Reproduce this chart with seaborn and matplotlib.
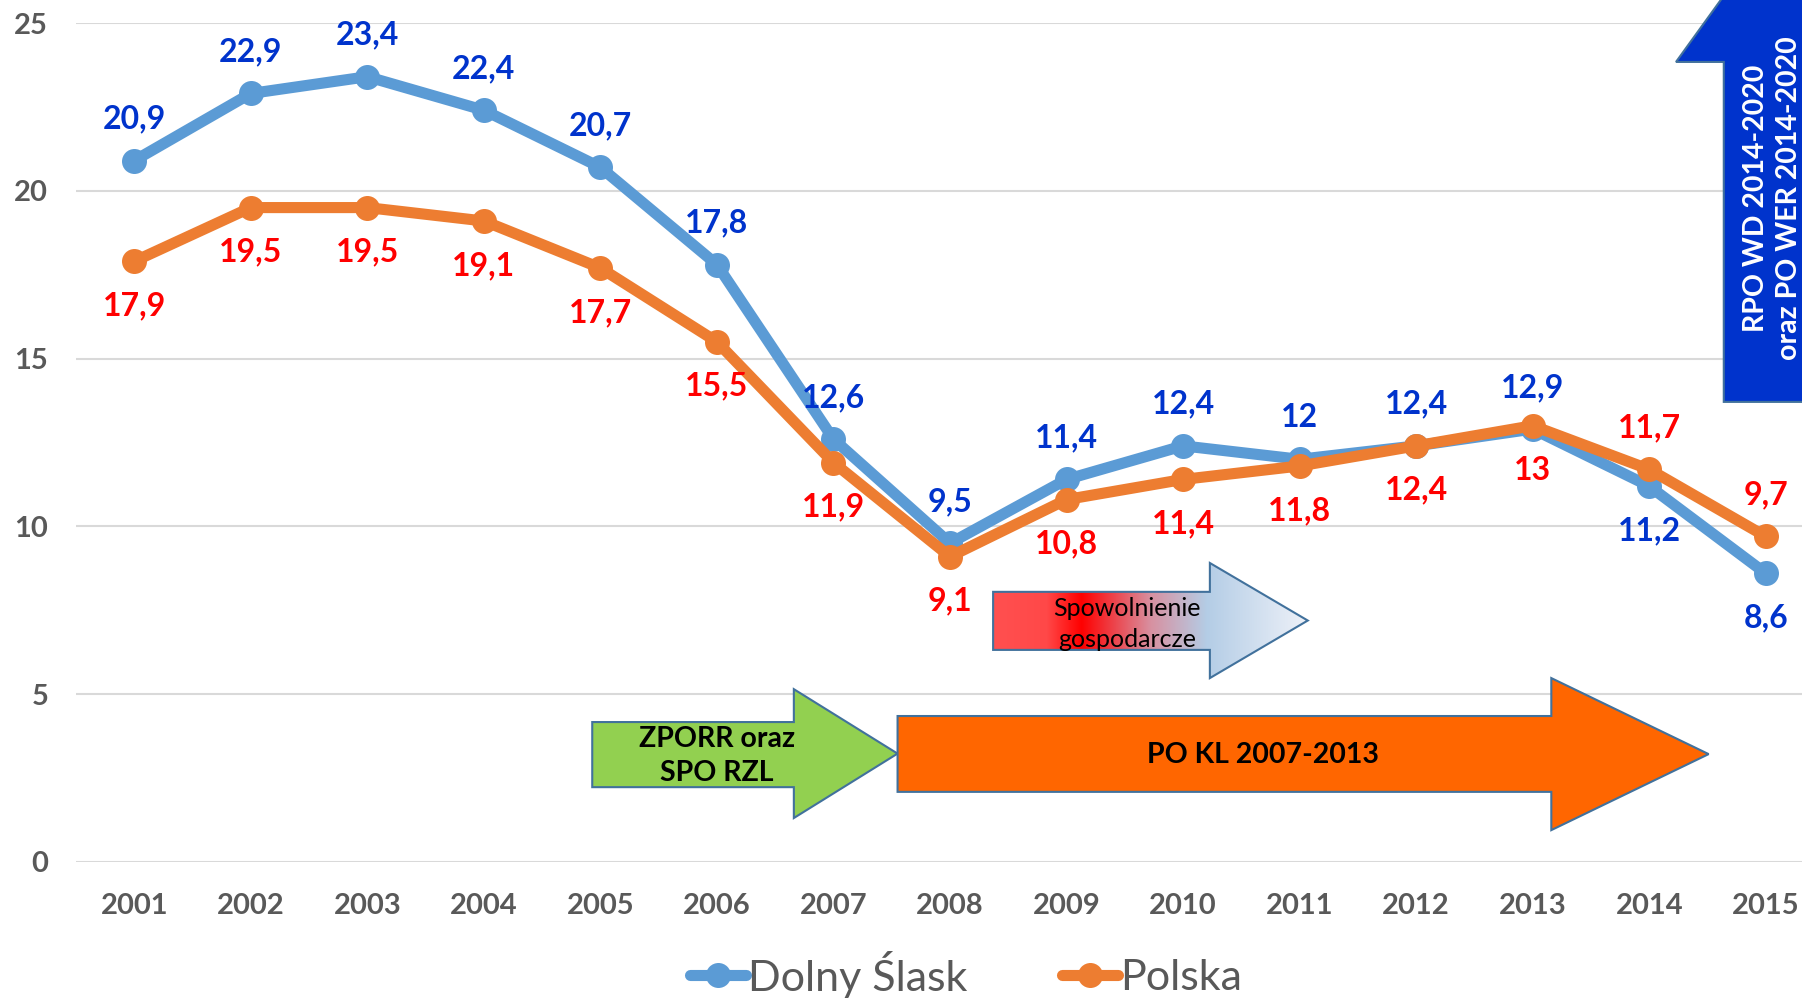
import numpy as np
import pandas as pd
import matplotlib
matplotlib.use('Agg')
import matplotlib.pyplot as plt
import seaborn as sns
from matplotlib.patches import Polygon
from matplotlib.colors import LinearSegmentedColormap

# data
years = list(range(2001, 2016))
dolny_slask = [20.9, 22.9, 23.4, 22.4, 20.7, 17.8, 12.6, 9.5, 11.4, 12.4, 12.0, 12.4, 12.9, 11.2, 8.6]
polska = [17.9, 19.5, 19.5, 19.1, 17.7, 15.5, 11.9, 9.1, 10.8, 11.4, 11.8, 12.4, 13.0, 11.7, 9.7]
series_names = ['Dolny Ślask', 'Polska']
# where each value label sits relative to its point
dolny_label_side = ['up'] * 13 + ['down', 'down']
polska_label_side = ['down'] * 13 + ['up', 'up']

sns.set_style('white')
plt.rcParams['font.family'] = ['Lato', 'DejaVu Sans']

df = pd.DataFrame({
    'rok': years * 2,
    'wartosc': dolny_slask + polska,
    'seria': [series_names[0]] * len(years) + [series_names[1]] * len(years),
})

fig = plt.figure(figsize=(18.02, 10), dpi=100)
ax = fig.add_axes([76 / 1802, 0.138, 1748 / 1802, 0.839])

palette = {series_names[0]: '#5B9BD5', series_names[1]: '#ED7D31'}
sns.lineplot(data=df, x='rok', y='wartosc', hue='seria', hue_order=series_names,
             palette=palette, marker='o', markersize=18, markeredgewidth=0,
             linewidth=8, ax=ax, zorder=5)

ax.set_xlim(2000.5, 2015.5)
ax.set_ylim(0, 25)
ax.set_yticks([0, 5, 10, 15, 20, 25])
ax.set_xticks(years)
ax.yaxis.grid(True, color='#D9D9D9', linewidth=1.5)
ax.xaxis.grid(False)
for s in ax.spines.values():
    s.set_visible(False)
ax.tick_params(axis='y', length=0, pad=20, labelsize=21, labelcolor='#595959')
ax.tick_params(axis='x', length=0, pad=22, labelsize=21, labelcolor='#595959')
for lab in ax.get_xticklabels() + ax.get_yticklabels():
    lab.set_fontweight('bold')
ax.set_xlabel('')
ax.set_ylabel('')


def fmt(v):
    if float(v).is_integer():
        return str(int(v))
    return f'{v:.1f}'.replace('.', ',')


for vals, sides, col in [(dolny_slask, dolny_label_side, '#0033CC'),
                         (polska, polska_label_side, '#FF0000')]:
    for x, v, side in zip(years, vals, sides):
        off = 30 if side == 'up' else -32
        ax.annotate(fmt(v), (x, v), xytext=(0, off), textcoords='offset points',
                    ha='center', va='center', fontsize=23, fontweight='bold',
                    color=col, zorder=8)


def right_arrow(x0, xh, xt, yb, yt, hb, ht):
    yc = (hb + ht) / 2
    return [(x0, yb), (xh, yb), (xh, hb), (xt, yc), (xh, ht), (xh, yt), (x0, yt)]


edge = '#41719C'

# ZPORR arrow
ax.add_patch(Polygon(right_arrow(2004.93, 2006.66, 2007.55, 2.23, 4.17, 1.31, 5.15),
                     closed=True, fc='#92D050', ec=edge, lw=1.5, zorder=3))
ax.text(2006.0, 3.15, 'ZPORR oraz\nSPO RZL', ha='center', va='center',
        fontsize=20.5, fontweight='bold', color='black', linespacing=1.4, zorder=4)

# PO KL arrow
ax.add_patch(Polygon(right_arrow(2007.55, 2013.16, 2014.51, 2.09, 4.35, 0.95, 5.48),
                     closed=True, fc='#FF6600', ec=edge, lw=1.5, zorder=3))
ax.text(2010.69, 3.2, 'PO KL 2007-2013', ha='center', va='center',
        fontsize=20.5, fontweight='bold', color='black', zorder=4)

# Spowolnienie gospodarcze arrow with gradient fill
spow = Polygon(right_arrow(2008.37, 2010.23, 2011.07, 6.32, 8.05, 5.48, 8.91),
               closed=True, fc='none', ec=edge, lw=1.5, zorder=4)
ax.add_patch(spow)
grad_cmap = LinearSegmentedColormap.from_list('spow', [
    (0.0, '#FF5050'), (0.17, '#FF4848'), (0.28, '#FF0000'), (0.5, '#D890A0'),
    (0.68, '#B4CDE6'), (1.0, '#EEF1F8')])
grad = np.linspace(0, 1, 256).reshape(1, -1)
im = ax.imshow(grad, cmap=grad_cmap, extent=[2008.37, 2011.07, 5.48, 8.91],
               aspect='auto', zorder=3, interpolation='bilinear')
im.set_clip_path(spow)
ax.text(2009.52, 7.1, 'Spowolnienie\ngospodarcze', ha='center', va='center',
        fontsize=18, color='black', linespacing=1.4, zorder=5)

# blue up arrow in the corner
cx = 2015.72
bw = 1.08
hw = 1.49
ax.add_patch(Polygon([(cx - bw, 13.71), (cx - bw, 23.84), (cx - hw, 23.84),
                      (cx, 31.0), (cx + hw, 23.84), (cx + bw, 23.84), (cx + bw, 13.71)],
                     closed=True, fc='#0033CC', ec=edge, lw=1.5, zorder=6, clip_on=False))
ax.text(2015.06, 19.79, 'RPO WD 2014-2020\noraz PO WER 2014-2020', rotation=90,
        ha='center', va='center', multialignment='center', fontsize=20.5,
        fontweight='bold', color='white', linespacing=1.35, zorder=7, clip_on=False)

ax.set_xlim(2000.5, 2015.5)
ax.set_ylim(0, 25)

handles, labels = ax.get_legend_handles_labels()
ax.legend(handles, labels, loc='center', bbox_to_anchor=(0.536, 0.026),
          bbox_transform=fig.transFigure, ncol=2, frameon=False, fontsize=31,
          handlelength=1.3, handletextpad=0.05, columnspacing=2.2,
          labelcolor='#595959')

fig.savefig('out.png', dpi=100)
